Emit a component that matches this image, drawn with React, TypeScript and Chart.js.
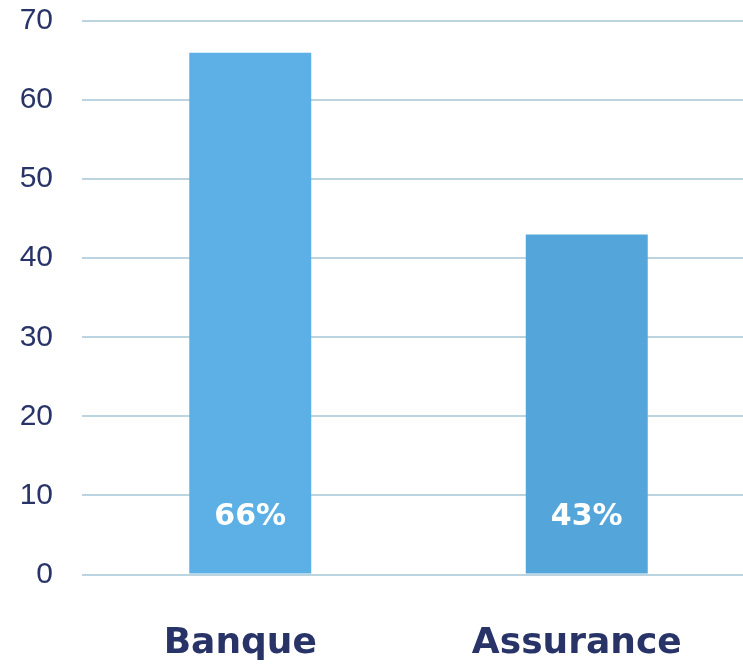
import React, { useEffect, useRef } from "react";
import { Chart, registerables } from "chart.js";

Chart.register(...registerables);

const categories = ["Banque", "Assurance"];
const values = [66, 43];
const valueLabels = ["66%", "43%"];
const barColors = ["#5DB0E5", "#54A6DA"];
const yTicks = [0, 10, 20, 30, 40, 50, 60, 70];

const NAVY = "#283468";
const GRID = "#BCD3E0";

const labelPlugin = {
  id: "insideLabels",
  afterDatasetsDraw(chart: any) {
    const { ctx } = chart;
    const meta = chart.getDatasetMeta(0);
    const yScale = chart.scales.y;
    const yPix = yScale.getPixelForValue(7.3);
    ctx.save();
    ctx.fillStyle = "#FFFFFF";
    ctx.font = "bold 30px 'DejaVu Sans'";
    ctx.textAlign = "center";
    ctx.textBaseline = "middle";
    meta.data.forEach((bar: any, i: number) => {
      ctx.fillText(valueLabels[i], bar.x, yPix);
    });
    ctx.restore();
  },
};

export default function App() {
  const ref = useRef<HTMLCanvasElement>(null);
  useEffect(() => {
    if (!ref.current) return;
    const chart = new Chart(ref.current, {
      type: "bar",
      data: {
        labels: categories,
        datasets: [
          {
            data: values,
            backgroundColor: barColors,
            borderWidth: 0,
            categoryPercentage: 1,
            barPercentage: 0.3625,
          },
        ],
      },
      options: {
        responsive: false,
        animation: false,
        devicePixelRatio: 1,
        layout: { padding: { top: 21, right: 5, left: 0, bottom: 0 } },
        plugins: { legend: { display: false }, tooltip: { enabled: false } },
        scales: {
          x: {
            grid: { display: false, drawTicks: false },
            border: { display: false },
            ticks: {
              color: NAVY,
              font: { family: "'DejaVu Sans'", size: 36, weight: "bold" },
              padding: 48,
              labelOffset: -10,
              maxRotation: 0,
            },
            afterFit(scale: any) {
              scale.height = 92.5;
              scale.paddingLeft = 0;
              scale.paddingRight = 0;
            },
          },
          y: {
            min: 0,
            max: 70,
            afterBuildTicks(scale: any) {
              scale.ticks = yTicks.map((v) => ({ value: v }));
            },
            grid: { color: GRID, lineWidth: 2, drawTicks: false },
            border: { display: false },
            ticks: {
              color: NAVY,
              font: { family: "'Liberation Sans'", size: 30 },
              padding: 29,
            },
            afterFit(scale: any) {
              scale.width = 82;
              scale.paddingTop = 0;
              scale.paddingBottom = 0;
            },
          },
        },
      },
      plugins: [labelPlugin],
    });
    return () => chart.destroy();
  }, []);
  return (
    <div
      style={{
        position: "fixed",
        left: 0,
        top: 0,
        width: 743,
        height: 667,
        overflow: "hidden",
        background: "#fff",
      }}
    >
      <canvas ref={ref} width={760} height={667} style={{ width: 760, height: 667 }} />
    </div>
  );
}
